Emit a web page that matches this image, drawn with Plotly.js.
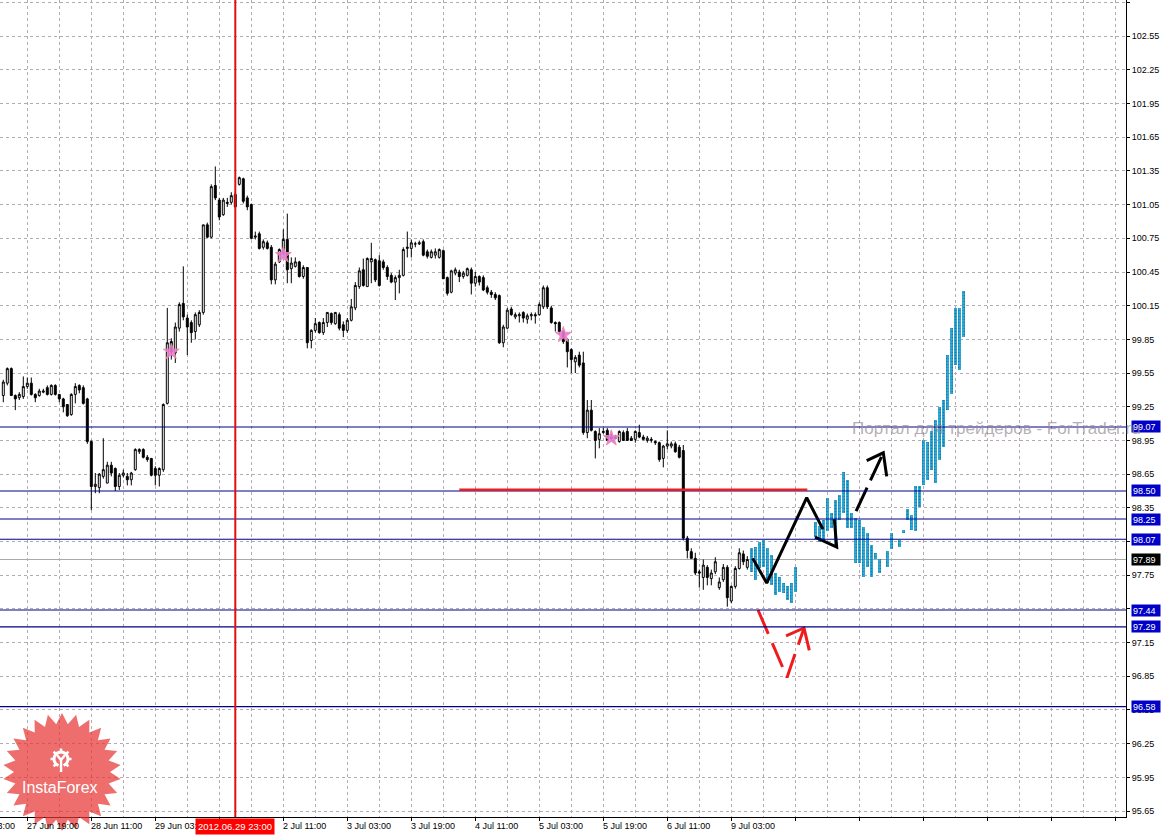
<!DOCTYPE html>
<html><head><meta charset="utf-8">
<script src="https://cdn.plot.ly/plotly-3.0.1.min.js"></script>
<style>html,body{margin:0;padding:0;background:#fff;}#chart{width:1167px;height:835px;}</style>
</head><body><div id="chart"></div>
<script>
// ---- H1 candles (bar 0 = 27 Jun 13:00) ----
const openP = [99.35,99.46,99.59,99.35,99.33,99.34,99.43,99.46,99.36,99.35,
99.38,99.42,99.36,99.44,99.36,99.32,99.27,99.18,99.36,99.44,
99.42,99.32,98.94,98.54,98.53,98.63,98.57,98.73,98.70,98.54,
98.64,98.63,98.60,98.69,98.85,98.87,98.80,98.79,98.70,98.64,
98.69,99.28,99.83,99.73,99.95,100.17,100.04,100.00,99.92,99.98,
100.09,100.87,100.76,101.22,101.09,100.96,101.06,101.07,101.14,101.23,
101.28,101.11,101.05,100.76,100.79,100.67,100.71,100.67,100.38,100.54,
100.62,100.74,100.48,100.50,100.54,100.41,100.49,99.84,99.93,100.00,
99.91,100.00,100.08,99.99,100.07,99.98,99.93,100.02,100.13,100.32,
100.47,100.32,100.54,100.56,100.55,100.54,100.49,100.42,100.36,100.40,
100.42,100.66,100.66,100.70,100.70,100.72,100.63,100.58,100.60,100.58,
100.64,100.40,100.27,100.44,100.45,100.41,100.42,100.47,100.35,100.41,
100.40,100.31,100.27,100.25,100.24,99.82,99.95,100.12,100.05,100.06,
100.09,100.03,100.06,100.07,100.07,100.14,100.31,100.13,100.00,100.00,
99.92,99.85,99.76,99.65,99.71,99.64,99.02,99.22,99.03,98.96,
99.02,99.04,98.98,98.98,98.94,99.02,99.03,98.97,98.96,99.02,
98.98,98.95,98.95,98.94,98.93,98.79,98.90,98.90,98.92,98.89,
98.86,98.08,97.96,97.90,97.78,97.73,97.82,97.72,97.78,97.64,
97.71,97.82,97.52,97.65,97.81,97.94,97.82];
const highP = [99.49,99.60,99.60,99.36,99.38,99.52,99.51,99.51,99.37,99.41,
99.41,99.44,99.45,99.45,99.36,99.33,99.27,99.37,99.46,99.45,
99.44,99.33,98.95,98.66,98.66,98.97,98.76,98.76,98.71,98.66,
98.69,98.66,98.67,98.88,98.88,98.88,98.82,98.79,98.72,98.71,
99.28,100.13,99.86,100.00,100.18,100.50,100.07,100.02,100.09,100.11,
100.87,100.89,101.23,101.39,101.11,101.11,101.11,101.16,101.16,101.30,
101.29,101.13,101.06,100.81,100.81,100.74,100.73,100.69,100.54,100.66,
100.83,100.97,100.58,100.58,100.55,100.51,100.49,99.94,100.04,100.01,
100.04,100.09,100.09,100.09,100.09,100.01,100.04,100.21,100.36,100.49,
100.57,100.58,100.71,100.57,100.60,100.56,100.51,100.44,100.42,100.47,
100.67,100.81,100.74,100.72,100.73,100.74,100.65,100.65,100.66,100.66,
100.65,100.41,100.47,100.49,100.47,100.46,100.49,100.49,100.45,100.42,
100.42,100.33,100.29,100.27,100.25,99.98,100.13,100.14,100.09,100.09,
100.10,100.08,100.09,100.09,100.18,100.33,100.33,100.15,100.01,100.01,
99.93,99.86,99.77,99.71,99.74,99.74,99.31,99.31,99.04,99.06,
99.06,99.06,99.01,99.00,99.04,99.04,99.06,98.99,99.04,99.09,
99.00,98.99,98.98,98.95,98.94,98.91,99.04,98.94,98.94,98.91,
98.91,98.10,97.99,97.95,97.80,97.89,97.84,97.80,97.91,97.73,
97.85,97.84,97.66,97.83,97.99,97.97,97.92];
const lowP = [99.29,99.44,99.35,99.22,99.31,99.32,99.41,99.35,99.29,99.34,
99.37,99.35,99.35,99.35,99.29,99.20,99.16,99.17,99.28,99.37,
99.27,98.92,98.33,98.48,98.48,98.61,98.57,98.63,98.50,98.51,
98.62,98.55,98.55,98.68,98.83,98.79,98.76,98.63,98.55,98.54,
98.67,99.27,99.67,99.64,99.92,100.02,99.71,99.82,99.85,99.96,
100.07,100.75,100.75,101.09,100.91,100.95,101.03,101.05,101.02,101.22,
101.06,101.00,100.74,100.74,100.65,100.65,100.65,100.34,100.34,100.53,
100.60,100.35,100.35,100.49,100.40,100.39,99.77,99.77,99.91,99.90,
99.89,99.96,99.98,99.98,99.93,99.87,99.91,100.01,100.11,100.30,
100.32,100.32,100.35,100.36,100.32,100.47,100.38,100.35,100.20,100.26,
100.41,100.58,100.58,100.67,100.69,100.59,100.57,100.57,100.57,100.57,
100.39,100.24,100.26,100.42,100.36,100.39,100.41,100.25,100.32,100.33,
100.28,100.25,100.22,100.20,99.81,99.78,99.94,100.06,100.03,100.00,
100.00,99.99,100.02,99.99,100.06,100.12,100.12,99.99,99.92,99.89,
99.81,99.60,99.55,99.55,99.60,99.00,98.97,99.03,98.79,98.88,
99.01,98.95,98.95,98.96,98.93,98.95,98.95,98.95,98.93,98.97,
98.95,98.93,98.93,98.91,98.76,98.71,98.87,98.88,98.84,98.79,
98.06,97.90,97.90,97.75,97.64,97.62,97.66,97.66,97.76,97.62,
97.69,97.47,97.50,97.63,97.80,97.84,97.80];
const closeP = [99.47,99.59,99.35,99.32,99.36,99.43,99.46,99.36,99.33,99.39,
99.39,99.36,99.44,99.36,99.32,99.25,99.17,99.36,99.43,99.40,
99.28,98.94,98.54,98.56,98.65,98.69,98.73,98.66,98.54,98.64,
98.66,98.60,98.66,98.87,98.87,98.80,98.78,98.64,98.64,98.70,
99.27,99.82,99.74,99.96,100.16,100.05,99.96,99.91,100.07,100.09,
100.87,100.76,101.21,101.11,100.94,101.09,101.07,101.13,101.03,101.29,
101.08,101.03,100.75,100.77,100.66,100.72,100.66,100.38,100.52,100.65,
100.74,100.47,100.53,100.54,100.41,100.49,99.82,99.93,99.99,99.91,
100.00,100.09,100.00,100.09,99.95,99.93,100.02,100.14,100.33,100.46,
100.33,100.57,100.57,100.38,100.33,100.49,100.41,100.36,100.40,100.42,
100.65,100.67,100.71,100.70,100.71,100.60,100.59,100.63,100.63,100.65,
100.39,100.26,100.46,100.47,100.41,100.44,100.48,100.35,100.41,100.36,
100.29,100.27,100.25,100.22,99.82,99.96,100.11,100.07,100.07,100.07,
100.04,100.06,100.07,100.06,100.16,100.31,100.14,100.00,99.99,99.92,
99.83,99.74,99.67,99.69,99.62,99.02,99.22,99.04,98.95,99.01,
99.03,98.95,98.97,98.97,99.03,98.95,98.95,98.95,99.03,98.98,
98.96,98.97,98.96,98.93,98.78,98.90,98.92,98.92,98.85,98.80,
98.08,97.97,97.90,97.77,97.77,97.84,97.73,97.77,97.87,97.69,
97.82,97.55,97.65,97.81,97.95,97.87,97.89];

// ---- projected (cyan) bars ----
const cyanBar  = [187,188,189,190,191,192,193,194,195,196,197,198,
203,204,205,206,207,208,209,210,211,212,213,214,215,216,217,218,219,221,222,
224,225,226,227,228,229,230,231,232,233,234,235,236,237,238,239,240];
const cyanHigh = [97.99,98.00,98.05,98.06,97.99,97.93,97.77,97.73,97.68,97.65,97.68,97.82,
98.22,98.19,98.24,98.44,98.30,98.42,98.46,98.67,98.60,98.30,98.26,98.24,98.18,98.13,98.02,97.95,97.89,97.97,98.13,
98.06,98.15,98.34,98.29,98.54,98.54,98.95,98.94,99.03,99.13,99.25,99.31,99.71,99.95,100.13,100.13,100.28];
const cyanLow  = [97.78,97.71,97.81,97.82,97.68,97.66,97.57,97.60,97.59,97.53,97.50,97.60,
98.09,98.05,98.06,98.14,98.17,98.00,98.24,98.30,98.17,98.17,97.86,97.86,97.73,97.82,97.73,97.89,97.77,97.82,97.98,
98.00,98.13,98.24,98.15,98.14,98.36,98.55,98.60,98.69,98.57,98.78,98.89,99.22,99.36,99.62,99.58,99.87];

// ---- levels ----
const levelPrices = [99.07, 98.50, 98.25, 98.07, 97.44, 97.29, 96.58];
const currentPrice = 97.89;
const redLevel = 98.51, redFrom = 114, redTo = 201;
const crossBar = 58, crossLabel = '2012.06.29 23:00';

// ---- pink signal stars ----
const starBar = [42, 70, 140, 152];
const starPrice = [99.74, 100.60, 99.89, 98.97];

// ---- hand drawn paths ----
const zigBar = [187.35, 190.85, 200.85, 204.9];
const zigPrice = [97.90, 97.68, 98.44, 98.16];
const hookBar = [202.93, 208.35, 207.75];
const hookPrice = [98.09, 98.00, 98.25];
const upArrowBar = [213.2, 220.0];
const upArrowPrice = [98.32, 98.84];
const upHeadBar = [215.85, 220.0, 220.85];
const upHeadPrice = [98.77, 98.84, 98.63];
const downArrowBar = [188.68, 195.93, 200.18];
const downArrowPrice = [97.44, 96.84, 97.28];
const downHeadBar = [195.68, 200.18, 201.5];
const downHeadPrice = [97.21, 97.28, 97.08];

// ---- axes ----
const yTickLabels = ['95.65','95.95','96.25','96.55','96.85','97.15','97.45','97.75','98.05','98.35','98.65','98.95',
'99.25','99.55','99.85','100.15','100.45','100.75','101.05','101.35','101.65','101.95','102.25','102.55','102.85'];
const xTickBars = [-10, 6, 22, 38, 54, 70, 86, 102, 118, 134, 150, 166, 182];
const xTickLabels = ['27 Jun 03:00','27 Jun 19:00','28 Jun 11:00','29 Jun 03:00','29 Jun 19:00','2 Jul 11:00',
'3 Jul 03:00','3 Jul 19:00','4 Jul 11:00','5 Jul 03:00','5 Jul 19:00','6 Jul 11:00','9 Jul 03:00'];

const xRange = [-0.825, 280.675];
const yRange = [95.597, 102.872];
const PW = 1126, PH = 817;
const FONT = 'Liberation Sans, Arial, sans-serif';
const gridCol = '#b4aab4';

const barIdx = openP.map((_, i) => i);
const xPaper = v => (v - xRange[0]) / (xRange[1] - xRange[0]);
const px = v => v / PW;
const py = v => 1 - v / PH;

const traces = [];
traces.push({
  type: 'candlestick', x: barIdx, open: openP, high: highP, low: lowP, close: closeP,
  increasing: {line: {color: '#000', width: 1}, fillcolor: '#fff'},
  decreasing: {line: {color: '#000', width: 1}, fillcolor: '#000'},
  whiskerwidth: 0, hoverinfo: 'skip', showlegend: false
});
traces.push({
  type: 'bar', x: cyanBar, base: cyanLow, y: cyanHigh.map((h, i) => h - cyanLow[i]),
  width: 0.78, marker: {color: '#26a2cf', line: {width: 0},
    pattern: {shape: '.', fgcolor: '#127fae', bgcolor: '#35acd8', size: 3, solidity: 0.35}},
  hoverinfo: 'skip', showlegend: false
});
const blk = {color: '#000', width: 3};
traces.push({type: 'scatter', mode: 'lines', x: zigBar, y: zigPrice, line: blk, hoverinfo: 'skip', showlegend: false});
traces.push({type: 'scatter', mode: 'lines', x: hookBar, y: hookPrice, line: blk, hoverinfo: 'skip', showlegend: false});
traces.push({type: 'scatter', mode: 'lines', x: upArrowBar, y: upArrowPrice, line: {color: '#000', width: 3, dash: '26px,8px'}, hoverinfo: 'skip', showlegend: false});
traces.push({type: 'scatter', mode: 'lines', x: upHeadBar, y: upHeadPrice, line: blk, hoverinfo: 'skip', showlegend: false});
traces.push({type: 'scatter', mode: 'lines', x: downArrowBar, y: downArrowPrice, line: {color: '#ee1c1c', width: 3, dash: '26px,10px'}, hoverinfo: 'skip', showlegend: false});
traces.push({type: 'scatter', mode: 'lines', x: downHeadBar, y: downHeadPrice, line: {color: '#ee1c1c', width: 3}, hoverinfo: 'skip', showlegend: false});
traces.push({type: 'scatter', mode: 'markers', x: starBar, y: starPrice,
  marker: {symbol: 'star', size: 12, color: 'rgba(232,120,215,0.9)', line: {color: 'rgba(235,140,170,0.9)', width: 1}},
  hoverinfo: 'skip', showlegend: false});

const shapes = [];
shapes.push({type: 'line', xref: 'paper', x0: 0, x1: 1, yref: 'y', y0: currentPrice, y1: currentPrice,
  line: {color: '#a8a8a8', width: 1}, layer: 'below'});
levelPrices.forEach(p => shapes.push({type: 'line', xref: 'paper', x0: 0, x1: 1, yref: 'y', y0: p, y1: p,
  line: {color: '#000088', width: 1.1}, layer: 'above'}));
shapes.push({type: 'line', xref: 'x', x0: redFrom, x1: redTo, yref: 'y', y0: redLevel, y1: redLevel,
  line: {color: '#ee1c1c', width: 2.5}, layer: 'above'});
shapes.push({type: 'line', xref: 'x', x0: crossBar, x1: crossBar, yref: 'paper', y0: 0, y1: 1,
  line: {color: '#e01010', width: 2}, layer: 'above'});

// InstaForex badge
(function () {
  const cx = 62, cy = 772, R = 59, r = 48, n = 26;
  let d = '';
  for (let k = 0; k < 2 * n; k++) {
    const a = -Math.PI / 2 + k * Math.PI / n;
    const rr = k % 2 === 0 ? R : r;
    const X = cx + rr * Math.cos(a), Y = cy + rr * Math.sin(a);
    d += (k === 0 ? 'M' : 'L') + px(X).toFixed(5) + ',' + py(Y).toFixed(5);
  }
  d += 'Z';
  shapes.push({type: 'path', xref: 'paper', yref: 'paper', path: d, fillcolor: 'rgba(232,52,52,0.72)', line: {width: 0}, layer: 'above'});
  const gx = 61, gy = 759, gr = 7;
  let g = '';
  for (let k = 0; k <= 20; k++) {
    const a = Math.PI * (0.62 + k * (1.76 / 20));
    const X = gx + gr * Math.cos(a), Y = gy + gr * Math.sin(a);
    g += (k === 0 ? 'M' : 'L') + px(X).toFixed(5) + ',' + py(Y).toFixed(5);
  }
  shapes.push({type: 'path', xref: 'paper', yref: 'paper', path: g, line: {color: '#fff', width: 3}, layer: 'above'});
  for (let k = 0; k < 7; k++) {
    const a = Math.PI * (0.75 + k * 0.25);
    shapes.push({type: 'line', xref: 'paper', yref: 'paper',
      x0: px(gx + 7 * Math.cos(a)), y0: py(gy + 7 * Math.sin(a)),
      x1: px(gx + 10.5 * Math.cos(a)), y1: py(gy + 10.5 * Math.sin(a)),
      line: {color: '#fff', width: 2.5}, layer: 'above'});
  }
  shapes.push({type: 'path', xref: 'paper', yref: 'paper',
    path: 'M' + px(57) + ',' + py(755) + 'L' + px(61) + ',' + py(760) + 'L' + px(65) + ',' + py(755) +
          'M' + px(61) + ',' + py(760) + 'L' + px(61) + ',' + py(772),
    line: {color: '#fff', width: 2.5}, layer: 'above'});
})();

const annotations = [];
annotations.push({xref: 'paper', yref: 'paper', x: px(60), y: py(787), text: 'InstaForex', showarrow: false,
  font: {family: FONT, size: 16, color: '#fff'}, xanchor: 'center', yanchor: 'middle'});
xTickBars.forEach((b, i) => annotations.push({xref: 'paper', yref: 'paper', x: xPaper(b), y: 0,
  xanchor: 'left', yanchor: 'top', yshift: -2, xshift: -2, text: xTickLabels[i], showarrow: false,
  font: {family: FONT, size: 9, color: '#000'}}));
annotations.push({xref: 'x', yref: 'paper', x: crossBar, y: 0, xanchor: 'center', yanchor: 'top', yshift: -1,
  text: crossLabel, showarrow: false, bgcolor: '#ff0000', borderpad: 2,
  font: {family: FONT, size: 9.5, color: '#fff'}});
levelPrices.forEach(p => annotations.push({xref: 'paper', yref: 'y', x: 1, y: p, xanchor: 'left', yanchor: 'middle',
  xshift: 5, text: p.toFixed(2), showarrow: false, bgcolor: '#0000c8', borderpad: 1, width: 26, height: 9,
  align: 'left', font: {family: FONT, size: 9, color: '#fff'}}));
annotations.push({xref: 'paper', yref: 'y', x: 1, y: currentPrice, xanchor: 'left', yanchor: 'middle',
  xshift: 5, text: currentPrice.toFixed(2), showarrow: false, bgcolor: '#000', borderpad: 1, width: 26, height: 9,
  align: 'left', font: {family: FONT, size: 9, color: '#fff'}});
annotations.push({xref: 'paper', yref: 'y', x: px(850), y: 99.06, xanchor: 'left', yanchor: 'middle',
  text: 'Портал для трейдеров - ForTrader.ru', showarrow: false,
  font: {family: FONT, size: 17, color: 'rgba(150,138,150,0.7)'}});

const layout = {
  width: 1167, height: 835,
  margin: {l: 0, r: 41, t: 0, b: 18, pad: 0},
  paper_bgcolor: '#fff', plot_bgcolor: '#fff',
  font: {family: FONT, size: 9, color: '#000'},
  showlegend: false, bargap: 0, dragmode: false,
  xaxis: {
    range: xRange, type: 'linear', tickmode: 'linear', tick0: -10, dtick: 16,
    showticklabels: false, ticks: 'outside', ticklen: 3, tickcolor: '#000',
    showgrid: true, gridcolor: gridCol, griddash: '3px,3px', gridwidth: 1,
    minor: {tickmode: 'linear', tick0: -10, dtick: 8, showgrid: true, gridcolor: gridCol, griddash: '3px,3px', ticks: ''},
    showline: true, linecolor: '#000', linewidth: 1, zeroline: false,
    rangeslider: {visible: false}, fixedrange: true
  },
  yaxis: {
    range: yRange, side: 'right', tickmode: 'array', tickvals: yTickLabels.map(Number), ticktext: yTickLabels,
    ticks: 'outside', ticklen: 3, tickcolor: '#000', tickfont: {family: FONT, size: 9, color: '#000'},
    showgrid: true, gridcolor: gridCol, griddash: '3px,3px', gridwidth: 1,
    showline: true, linecolor: '#000', linewidth: 1, zeroline: false, fixedrange: true
  },
  shapes: shapes, annotations: annotations
};

Plotly.newPlot('chart', traces, layout, {staticPlot: true, displayModeBar: false});
</script></body></html>
